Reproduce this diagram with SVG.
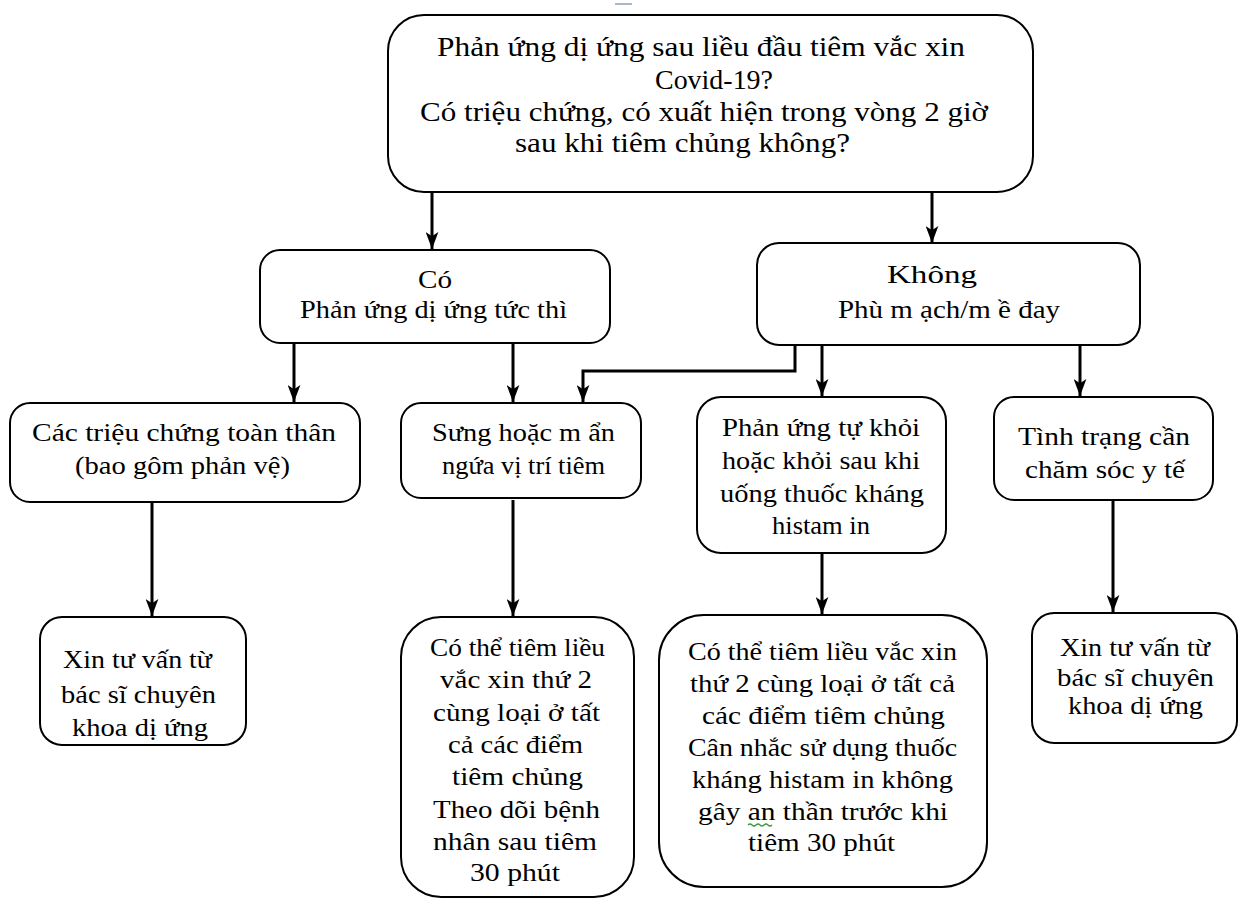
<svg xmlns="http://www.w3.org/2000/svg" width="1240" height="899" viewBox="0 0 1240 899">
<style>
.box{fill:#fff;stroke:#000;stroke-width:2}
.t{font-family:"Liberation Serif","Times New Roman",serif;font-size:26px;fill:#000}
.big{font-size:28px}
.con{fill:none;stroke:#000;stroke-width:3}
</style>
<defs>
<marker id="ah" viewBox="0 0 16 12" refX="16" refY="6" markerWidth="17" markerHeight="13" markerUnits="userSpaceOnUse" orient="auto">
<path d="M0,0 L16,6 L0,12 L4,6 z" fill="#000"/>
</marker>
</defs>
<rect width="1240" height="899" fill="#fff"/>
<line x1="615" y1="4" x2="632" y2="4" stroke="#aab8cc" stroke-width="2"/>

<g id="connectors">
<path class="con" d="M432,192 V249" marker-end="url(#ah)"/>
<path class="con" d="M932,192 V243" marker-end="url(#ah)"/>
<path class="con" d="M294,343 V402" marker-end="url(#ah)"/>
<path class="con" d="M513,343 V402" marker-end="url(#ah)"/>
<path class="con" d="M795,345 V371 H583 V402" marker-end="url(#ah)"/>
<path class="con" d="M822,345 V396" marker-end="url(#ah)"/>
<path class="con" d="M1080,345 V396" marker-end="url(#ah)"/>
<path class="con" d="M152,502 V616" marker-end="url(#ah)"/>
<path class="con" d="M513,500 V616" marker-end="url(#ah)"/>
<path class="con" d="M822,553 V614" marker-end="url(#ah)"/>
<path class="con" d="M1113,500 V612" marker-end="url(#ah)"/>
</g>

<g id="n_top">
<rect class="box" x="388" y="15" width="645" height="177" rx="36"/>
<text class="t big" x="437" y="56" textLength="528" lengthAdjust="spacingAndGlyphs">Phản ứng dị ứng sau liều đầu tiêm vắc xin</text>
<text class="t big" x="655" y="89" textLength="118" lengthAdjust="spacingAndGlyphs">Covid-19?</text>
<text class="t big" x="420" y="121" textLength="568" lengthAdjust="spacingAndGlyphs">Có triệu chứng, có xuất hiện trong vòng 2 giờ</text>
<text class="t big" x="515" y="152" textLength="335" lengthAdjust="spacingAndGlyphs">sau khi tiêm chủng không?</text>
</g>

<g id="n_co">
<rect class="box" x="260" y="250" width="350" height="93" rx="20"/>
<text class="t" x="418" y="288" textLength="34" lengthAdjust="spacingAndGlyphs">Có</text>
<text class="t" x="300" y="318" textLength="267" lengthAdjust="spacingAndGlyphs">Phản ứng dị ứng tức thì</text>
</g>

<g id="n_khong">
<rect class="box" x="757" y="243" width="383" height="102" rx="22"/>
<text class="t" x="887" y="283" textLength="90" lengthAdjust="spacingAndGlyphs">Không</text>
<text class="t" x="838" y="318" textLength="222" lengthAdjust="spacingAndGlyphs">Phù m ạch/m ề đay</text>
</g>

<g id="n_toanthan">
<rect class="box" x="10" y="403" width="350" height="99" rx="20"/>
<text class="t" x="32" y="441" textLength="304" lengthAdjust="spacingAndGlyphs">Các triệu chứng toàn thân</text>
<text class="t" x="75" y="474" textLength="215" lengthAdjust="spacingAndGlyphs">(bao gôm  phản vệ)</text>
</g>

<g id="n_sung">
<rect class="box" x="401" y="403" width="240" height="95" rx="20"/>
<text class="t" x="432" y="441" textLength="183" lengthAdjust="spacingAndGlyphs">Sưng hoặc m ẩn</text>
<text class="t" x="442" y="474" textLength="163" lengthAdjust="spacingAndGlyphs">ngứa vị trí tiêm</text>
</g>

<g id="n_tukhoi">
<rect class="box" x="697" y="397" width="249" height="156" rx="24"/>
<text class="t" x="722" y="436" textLength="198" lengthAdjust="spacingAndGlyphs">Phản ứng tự khỏi</text>
<text class="t" x="722" y="469" textLength="198" lengthAdjust="spacingAndGlyphs">hoặc khỏi sau khi</text>
<text class="t" x="720" y="502" textLength="204" lengthAdjust="spacingAndGlyphs">uống thuốc kháng</text>
<text class="t" x="772" y="534" textLength="98" lengthAdjust="spacingAndGlyphs">histam in</text>
</g>

<g id="n_tinhtrang">
<rect class="box" x="994" y="397" width="219" height="103" rx="20"/>
<text class="t" x="1018" y="445" textLength="172" lengthAdjust="spacingAndGlyphs">Tình trạng cần</text>
<text class="t" x="1025" y="478" textLength="160" lengthAdjust="spacingAndGlyphs">chăm  sóc y tế</text>
</g>

<g id="n_tuvan1">
<rect class="box" x="40" y="617" width="206" height="128" rx="22"/>
<text class="t" x="63" y="668" textLength="149" lengthAdjust="spacingAndGlyphs">Xin tư vấn từ</text>
<text class="t" x="61" y="703" textLength="155" lengthAdjust="spacingAndGlyphs">bác sĩ chuyên</text>
<text class="t" x="72" y="736" textLength="136" lengthAdjust="spacingAndGlyphs">khoa dị ứng</text>
</g>

<g id="n_tiem1">
<rect class="box" x="401" y="617" width="233" height="280" rx="40"/>
<text class="t" x="430" y="656" textLength="175" lengthAdjust="spacingAndGlyphs">Có thể tiêm  liều</text>
<text class="t" x="440" y="688" textLength="152" lengthAdjust="spacingAndGlyphs">vắc xin thứ 2</text>
<text class="t" x="433" y="721" textLength="167" lengthAdjust="spacingAndGlyphs">cùng loại ở tất</text>
<text class="t" x="448" y="753" textLength="135" lengthAdjust="spacingAndGlyphs">cả các điểm</text>
<text class="t" x="452" y="785" textLength="131" lengthAdjust="spacingAndGlyphs">tiêm  chủng</text>
<text class="t" x="433" y="818" textLength="167" lengthAdjust="spacingAndGlyphs">Theo dõi bệnh</text>
<text class="t" x="433" y="850" textLength="164" lengthAdjust="spacingAndGlyphs">nhân sau tiêm</text>
<text class="t" x="470" y="881" textLength="90" lengthAdjust="spacingAndGlyphs">30 phút</text>
</g>

<g id="n_tiem2">
<rect class="box" x="659" y="615" width="328" height="272" rx="45"/>
<text class="t" x="688" y="660" textLength="269" lengthAdjust="spacingAndGlyphs">Có thể tiêm  liều vắc xin</text>
<text class="t" x="690" y="692" textLength="265" lengthAdjust="spacingAndGlyphs">thứ 2 cùng loại ở tất cả</text>
<text class="t" x="702" y="724" textLength="243" lengthAdjust="spacingAndGlyphs">các điểm  tiêm  chủng</text>
<text class="t" x="688" y="756" textLength="269" lengthAdjust="spacingAndGlyphs">Cân nhắc sử dụng thuốc</text>
<text class="t" x="692" y="788" textLength="261" lengthAdjust="spacingAndGlyphs">kháng histam in không</text>
<text class="t" x="698" y="820" textLength="250" lengthAdjust="spacingAndGlyphs">gây an thần trước khi</text>
<text class="t" x="748" y="851" textLength="147" lengthAdjust="spacingAndGlyphs">tiêm  30 phút</text>
<path d="M748,825 q2,-2 4,0 t4,0 t4,0 t4,0 t4,0 t4,0" fill="none" stroke="#3a9a3a" stroke-width="1.2"/>
</g>

<g id="n_tuvan2">
<rect class="box" x="1032" y="613" width="205" height="130" rx="22"/>
<text class="t" x="1060" y="656" textLength="150" lengthAdjust="spacingAndGlyphs">Xin tư vấn từ</text>
<text class="t" x="1057" y="686" textLength="157" lengthAdjust="spacingAndGlyphs">bác sĩ chuyên</text>
<text class="t" x="1068" y="714" textLength="135" lengthAdjust="spacingAndGlyphs">khoa dị ứng</text>
</g>
</svg>
